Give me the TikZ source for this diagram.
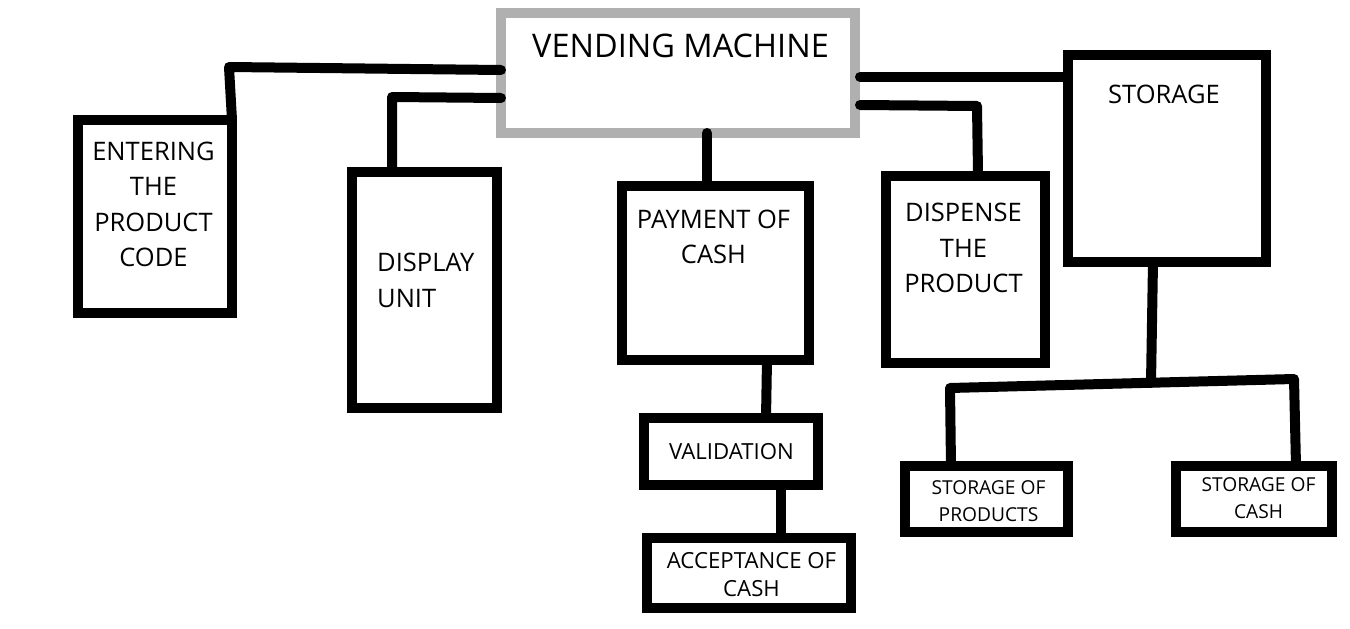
\documentclass[tikz,border=0pt]{standalone}
\usepackage{fontspec}
\setmainfont{Open Sans}
\definecolor{vmgray}{HTML}{B0B0B0}
\tikzset{
  box/.style={draw=black, line width=10pt, rectangle, inner sep=0pt, outer sep=0pt, fill=white},
  vmbox/.style={box, draw=vmgray},
  conn/.style={draw=black, line width=10pt, line cap=round, line join=round},
  bigtxt/.style={inner sep=0pt, anchor=north, align=center, font=\fontsize{32.5}{38}\selectfont},
  txt/.style={inner sep=0pt, anchor=north, align=center, font=\fontsize{25.5}{35.5}\selectfont},
  midtxt/.style={inner sep=0pt, anchor=north, align=center, font=\fontsize{22.2}{28}\selectfont},
  smalltxt/.style={inner sep=0pt, anchor=north, align=center, font=\fontsize{19.2}{27.5}\selectfont}
}
\begin{document}
\begin{tikzpicture}[x=1pt,y=-1pt]
\useasboundingbox[fill=white] (0,0) rectangle (1350,629);

% boxes
\node[vmbox, minimum width=354pt, minimum height=120pt] (vm) at (678,73) {};
\node[box, minimum width=154pt, minimum height=193pt] (entering) at (155,216.5) {};
\node[box, minimum width=145pt, minimum height=236pt] (display) at (424.5,290) {};
\node[box, minimum width=187pt, minimum height=174pt] (payment) at (715.5,273) {};
\node[box, minimum width=159pt, minimum height=187pt] (dispense) at (965.5,269.5) {};
\node[box, minimum width=198pt, minimum height=207pt] (storage) at (1167,158.5) {};
\node[box, minimum width=174pt, minimum height=67pt] (validation) at (731,451.5) {};
\node[box, minimum width=204pt, minimum height=70pt] (acceptance) at (749,573) {};
\node[box, minimum width=163pt, minimum height=66pt] (sprod) at (986.5,499) {};
\node[box, minimum width=156pt, minimum height=66pt] (scash) at (1254,499) {};

% texts
\node[bigtxt] (tvm) at (680.5,34) {VENDING MACHINE};
\node[txt] (tentering) at (153.5,141.5) {ENTERING\\THE\\PRODUCT\\CODE};
\node[txt, align=left, anchor=north west] (tdisplay) at (377,253) {DISPLAY\\UNIT};
\node[txt] (tpayment) at (713.5,209.5) {PAYMENT OF\\CASH};
\node[txt] (tdispense) at (963.5,203) {DISPENSE\\THE\\PRODUCT};
\node[txt] (tstorage) at (1164,85) {STORAGE};
\node[midtxt] (tvalidation) at (731.5,443) {VALIDATION};
\node[midtxt] (tacceptance) at (751.5,552) {ACCEPTANCE OF\\CASH};
\node[smalltxt] (tsprod) at (988.5,480) {STORAGE OF\\PRODUCTS};
\node[smalltxt] (tscash) at (1258.5,477) {STORAGE OF\\CASH};

% connectors
\coordinate (c1) at (229,67);
\coordinate (c2) at (392,97);
\coordinate (c3) at (977,106);
\coordinate (c4) at (950,388);
\coordinate (c5) at (1151,383);
\coordinate (c6) at (1294,379);

\draw[conn] (vm.west |- 0,70) -- (c1) -- (entering.north -| 232,0);
\draw[conn] (vm.west |- 0,98) -- (c2) -- (display.north -| 392,0);
\draw[conn] (vm.south -| 707,0) -- (payment.north -| 707,0);
\draw[conn] ([xshift=5pt]vm.east |- 0,77) -- (storage.west |- 0,77);
\draw[conn] ([xshift=5pt]vm.east |- 0,105) -- (c3) -- ([yshift=3pt]dispense.north -| 978,0);
\draw[conn] (storage.south -| 1153,0) -- (c5);
\draw[conn] (sprod.north -| 951,0) -- (c4) -- (c6) -- (scash.north -| 1296,0);
\draw[conn] (payment.south -| 767,0) -- (validation.north -| 766,0);
\draw[conn] (validation.south -| 781,0) -- (acceptance.north -| 781,0);
\end{tikzpicture}
\end{document}
